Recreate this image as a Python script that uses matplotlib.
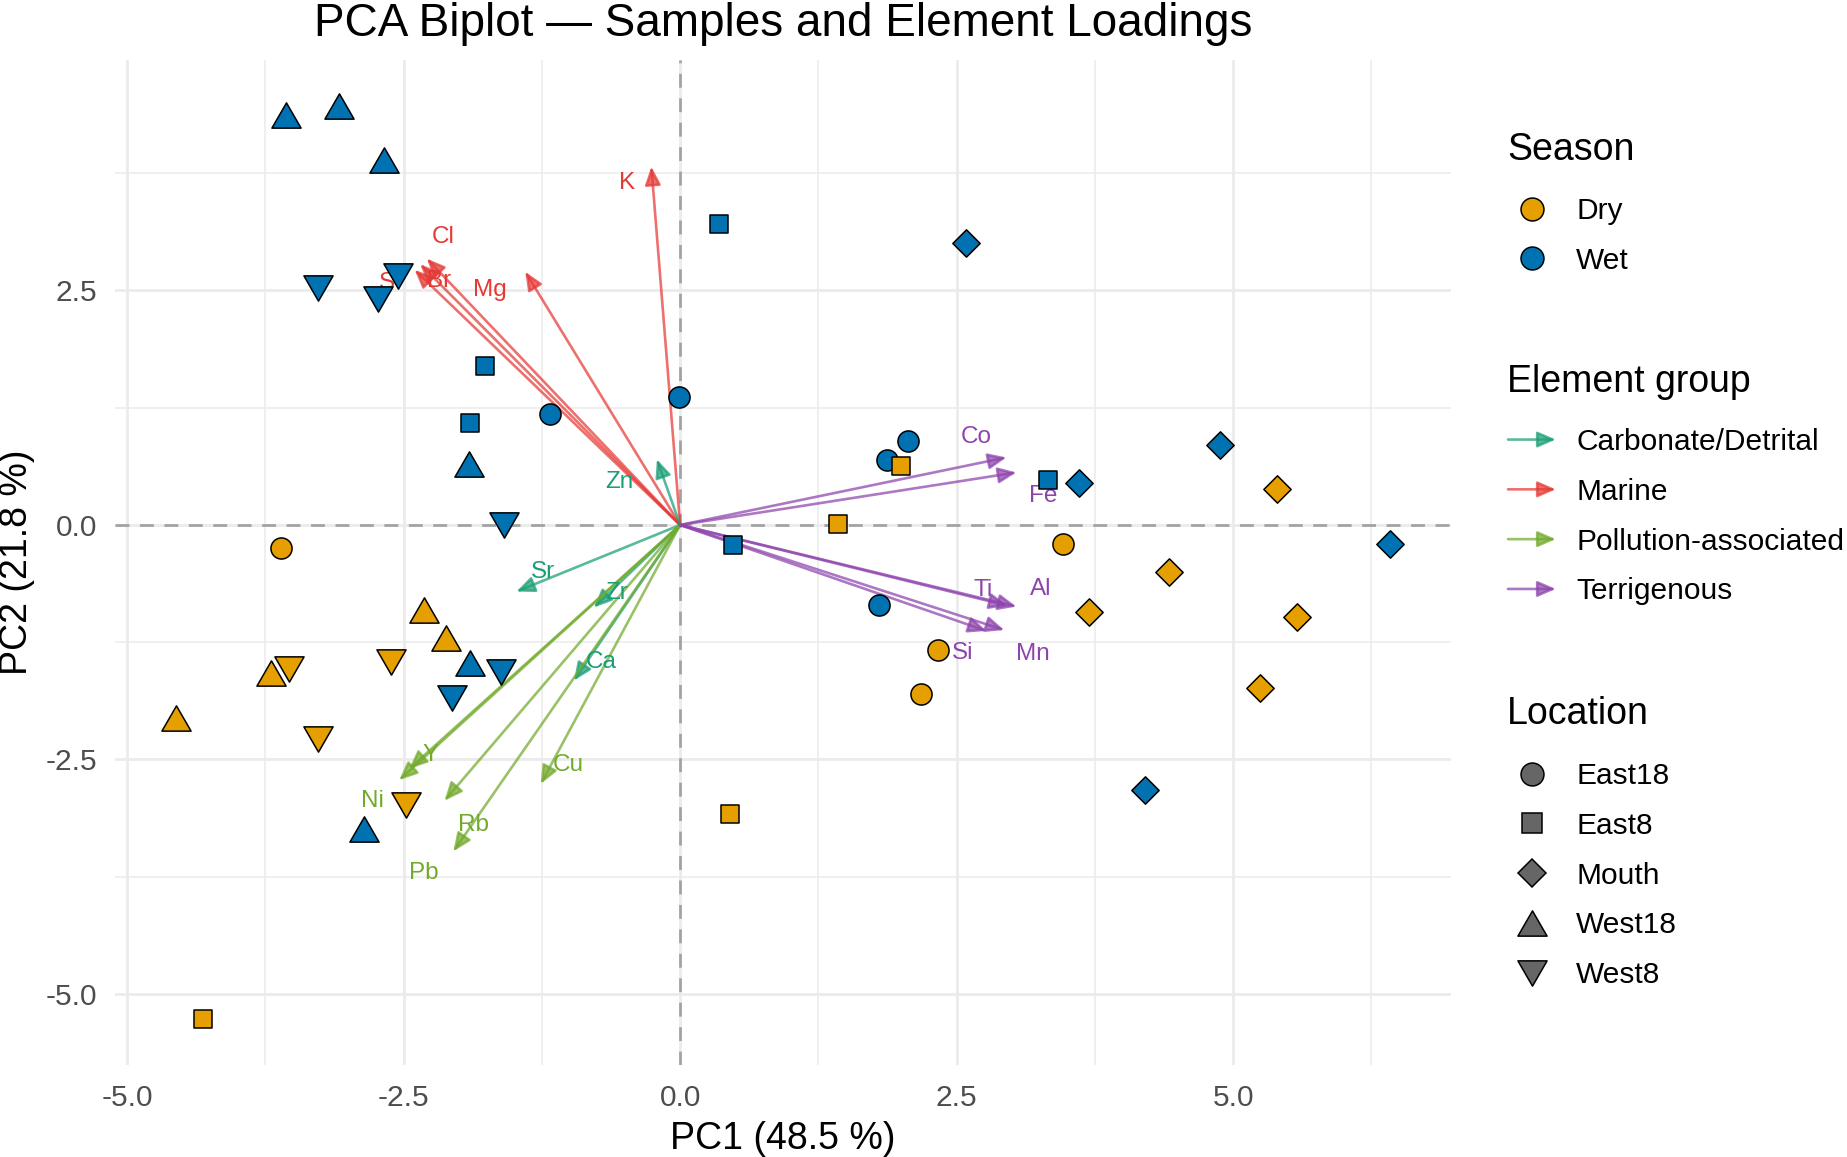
import matplotlib
matplotlib.use("Agg")
import matplotlib.pyplot as plt
from matplotlib.lines import Line2D
from matplotlib.path import Path
from matplotlib.patches import FancyArrowPatch, ArrowStyle
from matplotlib.legend_handler import HandlerPatch
from matplotlib.ticker import MultipleLocator, FormatStrFormatter

plt.rcParams["font.family"] = ["Liberation Sans", "DejaVu Sans"]
plt.rcParams["axes.unicode_minus"] = False

# sample scores
location = (["East18"] * 9 + ["East8"] * 9 + ["Mouth"] * 10
            + ["West18"] * 10 + ["West8"] * 10)
season = (["Wet"] * 5 + ["Dry"] * 4
          + ["Wet"] * 5 + ["Dry"] * 4
          + ["Wet"] * 5 + ["Dry"] * 5
          + ["Wet"] * 6 + ["Dry"] * 4
          + ["Wet"] * 6 + ["Dry"] * 4)
pc1 = [-1.18, -0.01, 1.87, 2.06, 1.80, -3.61, 3.46, 2.33, 2.18,
       0.35, -1.76, -1.90, 3.33, 0.48, -4.31, 0.45, 1.43, 2.00,
       2.58, 3.61, 4.88, 6.42, 4.20, 5.40, 4.42, 3.70, 5.58, 5.24,
       -3.56, -3.08, -2.68, -1.91, -1.90, -2.86, -2.32, -2.12, -3.70, -4.56,
       -3.27, -2.73, -2.55, -1.59, -1.62, -2.06, -2.61, -3.54, -3.27, -2.48]
pc2 = [1.18, 1.36, 0.69, 0.90, -0.85, -0.25, -0.20, -1.33, -1.80,
       3.21, 1.69, 1.09, 0.48, -0.21, -5.27, -3.08, 0.01, 0.63,
       3.01, 0.45, 0.85, -0.20, -2.83, 0.38, -0.50, -0.93, -0.98, -1.74,
       4.37, 4.47, 3.89, 0.65, -1.47, -3.24, -0.91, -1.20, -1.58, -2.06,
       2.53, 2.41, 2.65, 0.00, -1.57, -1.84, -1.46, -1.54, -2.28, -2.98]

# element loadings (scaled)
elements = ["K", "Cl", "S", "Br", "Mg",
            "Zn", "Sr", "Zr", "Ca",
            "Y", "Ni", "Rb", "Pb", "Cu",
            "Co", "Fe", "Ti", "Al", "Si", "Mn"]
element_group = (["Marine"] * 5 + ["Carbonate/Detrital"] * 4
                 + ["Pollution-associated"] * 5 + ["Terrigenous"] * 6)
load_pc1 = [-0.26, -2.29, -2.40, -2.35, -1.40,
            -0.21, -1.48, -0.78, -0.96,
            -2.45, -2.54, -2.13, -2.05, -1.26,
            2.95, 3.04, 2.96, 3.04, 2.77, 2.93]
load_pc2 = [3.82, 2.84, 2.72, 2.78, 2.70,
            0.70, -0.71, -0.88, -1.66,
            -2.60, -2.72, -2.94, -3.48, -2.76,
            0.72, 0.56, -0.86, -0.87, -1.13, -1.12]
label_x = [-0.48, -2.14, -2.65, -2.18, -1.72,
           -0.55, -1.24, -0.57, -0.71,
           -2.26, -2.78, -1.87, -2.32, -1.01,
           2.68, 3.28, 2.74, 3.26, 2.55, 3.19]
label_y = [3.65, 3.07, 2.58, 2.60, 2.50,
           0.46, -0.50, -0.72, -1.46,
           -2.45, -2.94, -3.20, -3.71, -2.56,
           0.94, 0.31, -0.69, -0.68, -1.37, -1.38]

seasons = ["Dry", "Wet"]
season_colors = {"Dry": "#E69F00", "Wet": "#0072B2"}
groups = ["Carbonate/Detrital", "Marine", "Pollution-associated", "Terrigenous"]
group_colors = {"Carbonate/Detrital": "#1B9E77", "Marine": "#E53935",
                "Pollution-associated": "#72AA2C", "Terrigenous": "#8E44AD"}

tri_up = Path([(-1, -0.866), (1, -0.866), (0, 0.866), (-1, -0.866)], closed=True)
tri_down = Path([(-1, 0.866), (1, 0.866), (0, -0.866), (-1, 0.866)], closed=True)
locations = ["East18", "East8", "Mouth", "West18", "West8"]
loc_marker = {"East18": "o", "East8": "s", "Mouth": "D",
              "West18": tri_up, "West8": tri_down}
loc_size = {"East18": 15.2, "East8": 13.4, "Mouth": 13.9,
            "West18": 21.0, "West8": 21.0}

head = ArrowStyle("-|>", head_length=11, head_width=4.8)
arrow_lw = 1.9
arrow_alpha = 0.72

fig = plt.figure(figsize=(18.47, 11.57), dpi=100)
ax = fig.add_axes([115 / 1847, 1 - 1065 / 1157, 1336 / 1847, 1005 / 1157])

# limits with ggplot-like 5 % expansion
xr = max(pc1) - min(pc1)
yr = max(pc2) - min(pc2)
ax.set_xlim(min(pc1) - 0.05 * xr, max(pc1) + 0.05 * xr)
ax.set_ylim(min(pc2) - 0.05 * yr, max(pc2) + 0.05 * yr)

ax.axhline(0, color="#A3A3A3", lw=2.0, ls=(0, (5, 3.8)), zorder=1)
ax.axvline(0, color="#A3A3A3", lw=2.0, ls=(0, (5, 3.8)), zorder=1)

for i, el in enumerate(elements):
    c = group_colors[element_group[i]]
    arr = FancyArrowPatch((0, 0), (load_pc1[i], load_pc2[i]), arrowstyle=head,
                          mutation_scale=1, color=c, lw=arrow_lw, alpha=arrow_alpha,
                          shrinkA=0, shrinkB=0, zorder=2)
    ax.add_patch(arr)
    ax.text(label_x[i], label_y[i], el, color=c, fontsize=17.5,
            ha="center", va="center", zorder=3)

for loc in locations:
    for s in seasons:
        xs = [pc1[i] for i in range(len(pc1)) if location[i] == loc and season[i] == s]
        ys = [pc2[i] for i in range(len(pc2)) if location[i] == loc and season[i] == s]
        ax.scatter(xs, ys, marker=loc_marker[loc], s=loc_size[loc] ** 2,
                   c=season_colors[s], edgecolors="black", linewidths=1.1, zorder=4)

ax.xaxis.set_major_locator(MultipleLocator(2.5))
ax.yaxis.set_major_locator(MultipleLocator(2.5))
ax.xaxis.set_minor_locator(MultipleLocator(1.25))
ax.yaxis.set_minor_locator(MultipleLocator(1.25))
ax.xaxis.set_major_formatter(FormatStrFormatter("%.1f"))
ax.yaxis.set_major_formatter(FormatStrFormatter("%.1f"))
ax.grid(which="major", color="#EBEBEB", lw=2.0)
ax.grid(which="minor", color="#EBEBEB", lw=1.1)
ax.set_axisbelow(True)
for sp in ax.spines.values():
    sp.set_visible(False)
ax.tick_params(which="both", length=0, labelsize=21.5, labelcolor="#4D4D4D")
ax.tick_params(axis="x", pad=13.5)
ax.tick_params(axis="y", pad=13)

ax.set_xlabel("PC1 (48.5 %)", fontsize=27, va="baseline")
ax.xaxis.set_label_coords(0.5, -0.0836)
ax.set_ylabel("PC2 (21.8 %)", fontsize=27, va="baseline")
ax.yaxis.set_label_coords(-0.0659, 0.5)
ax.set_title("PCA Biplot \u2014 Samples and Element Loadings", fontsize=33,
             y=1.0239, pad=0, va="baseline")


class ArrowHandler(HandlerPatch):
    def create_artists(self, legend, orig_handle, xdescent, ydescent,
                       width, height, fontsize, trans):
        y = height / 2 - ydescent
        a = FancyArrowPatch((-xdescent, y), (-xdescent + width, y),
                            arrowstyle=head, mutation_scale=1,
                            color=orig_handle.get_edgecolor(), lw=arrow_lw,
                            alpha=arrow_alpha, shrinkA=0, shrinkB=0)
        a.set_transform(trans)
        return [a]


leg_kw = dict(loc="upper left", frameon=False, borderpad=0, borderaxespad=0,
              handlelength=1.6, handletextpad=0.68, labelspacing=0.73,
              fontsize=21.5)
lx = 1508 / 1847

season_handles = [Line2D([], [], ls="none", marker="o", markersize=16.5,
                         markerfacecolor=season_colors[s], markeredgecolor="black",
                         markeredgewidth=1.1) for s in seasons]
fig.legend(season_handles, seasons, bbox_to_anchor=(lx, 1 - 197 / 1157), **leg_kw)

group_handles = [FancyArrowPatch((0, 0), (1, 0), color=group_colors[g]) for g in groups]
fig.legend(group_handles, groups, bbox_to_anchor=(lx, 1 - 428 / 1157),
           handler_map={FancyArrowPatch: ArrowHandler()}, **leg_kw)

leg_size = {"East18": 16.5, "East8": 14.2, "Mouth": 14.1,
            "West18": 21.0, "West8": 21.0}
loc_handles = [Line2D([], [], ls="none", marker=loc_marker[l], markersize=leg_size[l],
                      markerfacecolor="#666666", markeredgecolor="black",
                      markeredgewidth=1.1) for l in locations]
fig.legend(loc_handles, locations, bbox_to_anchor=(lx, 1 - 762 / 1157), **leg_kw)

tx = 1507 / 1847
fig.text(tx, 1 - 160 / 1157, "Season", fontsize=27, va="baseline")
fig.text(tx, 1 - 392 / 1157, "Element group", fontsize=27, va="baseline")
fig.text(tx, 1 - 724 / 1157, "Location", fontsize=27, va="baseline")

fig.savefig("out.png", dpi=100)
